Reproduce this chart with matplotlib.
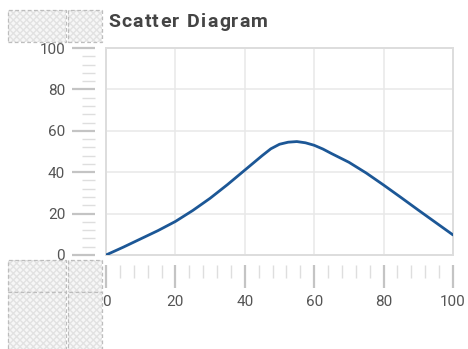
import matplotlib
matplotlib.use("Agg")
import matplotlib.pyplot as plt
from matplotlib.patches import Rectangle
from matplotlib.ticker import MultipleLocator

plt.rcParams['font.family'] = ['Roboto', 'DejaVu Sans']

title = "Scatter Diagram"
x_vals = [0, 5, 10, 15, 20, 25, 30, 35, 40, 45, 47.5, 50, 52.5, 55, 57.5, 60, 62.5, 65, 70, 75, 80, 85, 90, 95, 100]
y_vals = [0, 3.8, 7.8, 11.8, 16.2, 21.5, 27.4, 34.0, 41.0, 48.0, 51.3, 53.5, 54.5, 54.8, 54.2, 53.0, 51.2, 49.0, 44.8, 39.6, 33.8, 27.8, 21.7, 15.7, 9.7]
x_ticks = [0, 20, 40, 60, 80, 100]
y_ticks = [0, 20, 40, 60, 80, 100]

W, H = 468, 349
fig = plt.figure(figsize=(W / 100, H / 100), dpi=100)

def fx(px):
    return px / W

def fy(py):
    return 1 - py / H

left, right, top, bottom = 106, 453, 48, 255
ax = fig.add_axes([fx(left), fy(bottom), fx(right) - fx(left), fy(top) - fy(bottom)])
ax.plot(x_vals, y_vals, color='#1c5796', lw=2.0, solid_capstyle='round',
        solid_joinstyle='round', zorder=3)
ax.set_xlim(0, 100)
ax.set_ylim(0, 100)
ax.set_xticks(x_ticks)
ax.set_yticks(y_ticks)
ax.grid(True, color='#e8e8e8', lw=1.1)
ax.tick_params(which='both', length=0, labelleft=False, labelbottom=False)
for s in ax.spines.values():
    s.set_color('#dddddd')
    s.set_linewidth(1.4)
ax.set_axisbelow(True)

off_y = 11 / (right - left)
sy = ax.secondary_yaxis(-off_y)
sy.set_yticks(y_ticks)
sy.yaxis.set_minor_locator(MultipleLocator(4))
sy.spines['left'].set_visible(False)
sy.tick_params(which='major', length=16.5, width=1.6, color='#c4c4c4', pad=5,
               labelsize=11, labelcolor='#555555')
sy.tick_params(which='minor', length=9.5, width=1.0, color='#dedede')

off_x = 10 / (bottom - top)
sx = ax.secondary_xaxis(-off_x)
sx.set_xticks(x_ticks)
sx.xaxis.set_minor_locator(MultipleLocator(4))
sx.spines['bottom'].set_visible(False)
sx.tick_params(which='major', length=16.5, width=1.6, color='#c4c4c4', pad=5,
               labelsize=11, labelcolor='#555555')
sx.tick_params(which='minor', length=9.5, width=1.0, color='#dedede')

# title with letter spacing
renderer = fig.canvas.get_renderer()
fs = 14
cur = 108.0
spacing = 1.3
probe = fig.text(0, 0, 'a a', fontsize=fs, fontweight='bold')
probe2 = fig.text(0, 0, 'aa', fontsize=fs, fontweight='bold')
space_w = probe.get_window_extent(renderer).width - probe2.get_window_extent(renderer).width
probe.remove()
probe2.remove()
for ch in title:
    if ch == ' ':
        cur += space_w + spacing
        continue
    t = fig.text(fx(cur), fy(22), ch, fontsize=fs, fontweight='bold', color='#444444',
                 ha='left', va='center')
    cur += t.get_window_extent(renderer).width + spacing

boxes = [(8, 10, 66, 42), (68, 10, 102, 42), (8, 260, 66, 292), (68, 260, 102, 292),
         (8, 292, 66, 352), (68, 292, 102, 352)]
for (x0, y0, x1, y1) in boxes:
    r1 = Rectangle((fx(x0), fy(y1)), fx(x1) - fx(x0), fy(y0) - fy(y1), transform=fig.transFigure,
                   facecolor='#f7f7f7', edgecolor='#e2e2e2', hatch='xxxxx', lw=0)
    fig.add_artist(r1)
    r2 = Rectangle((fx(x0), fy(y1)), fx(x1) - fx(x0), fy(y0) - fy(y1), transform=fig.transFigure,
                   facecolor='none', edgecolor='#bdbdbd', lw=0.9, linestyle=(0, (3, 2)))
    fig.add_artist(r2)

fig.savefig("out.png", dpi=100)
